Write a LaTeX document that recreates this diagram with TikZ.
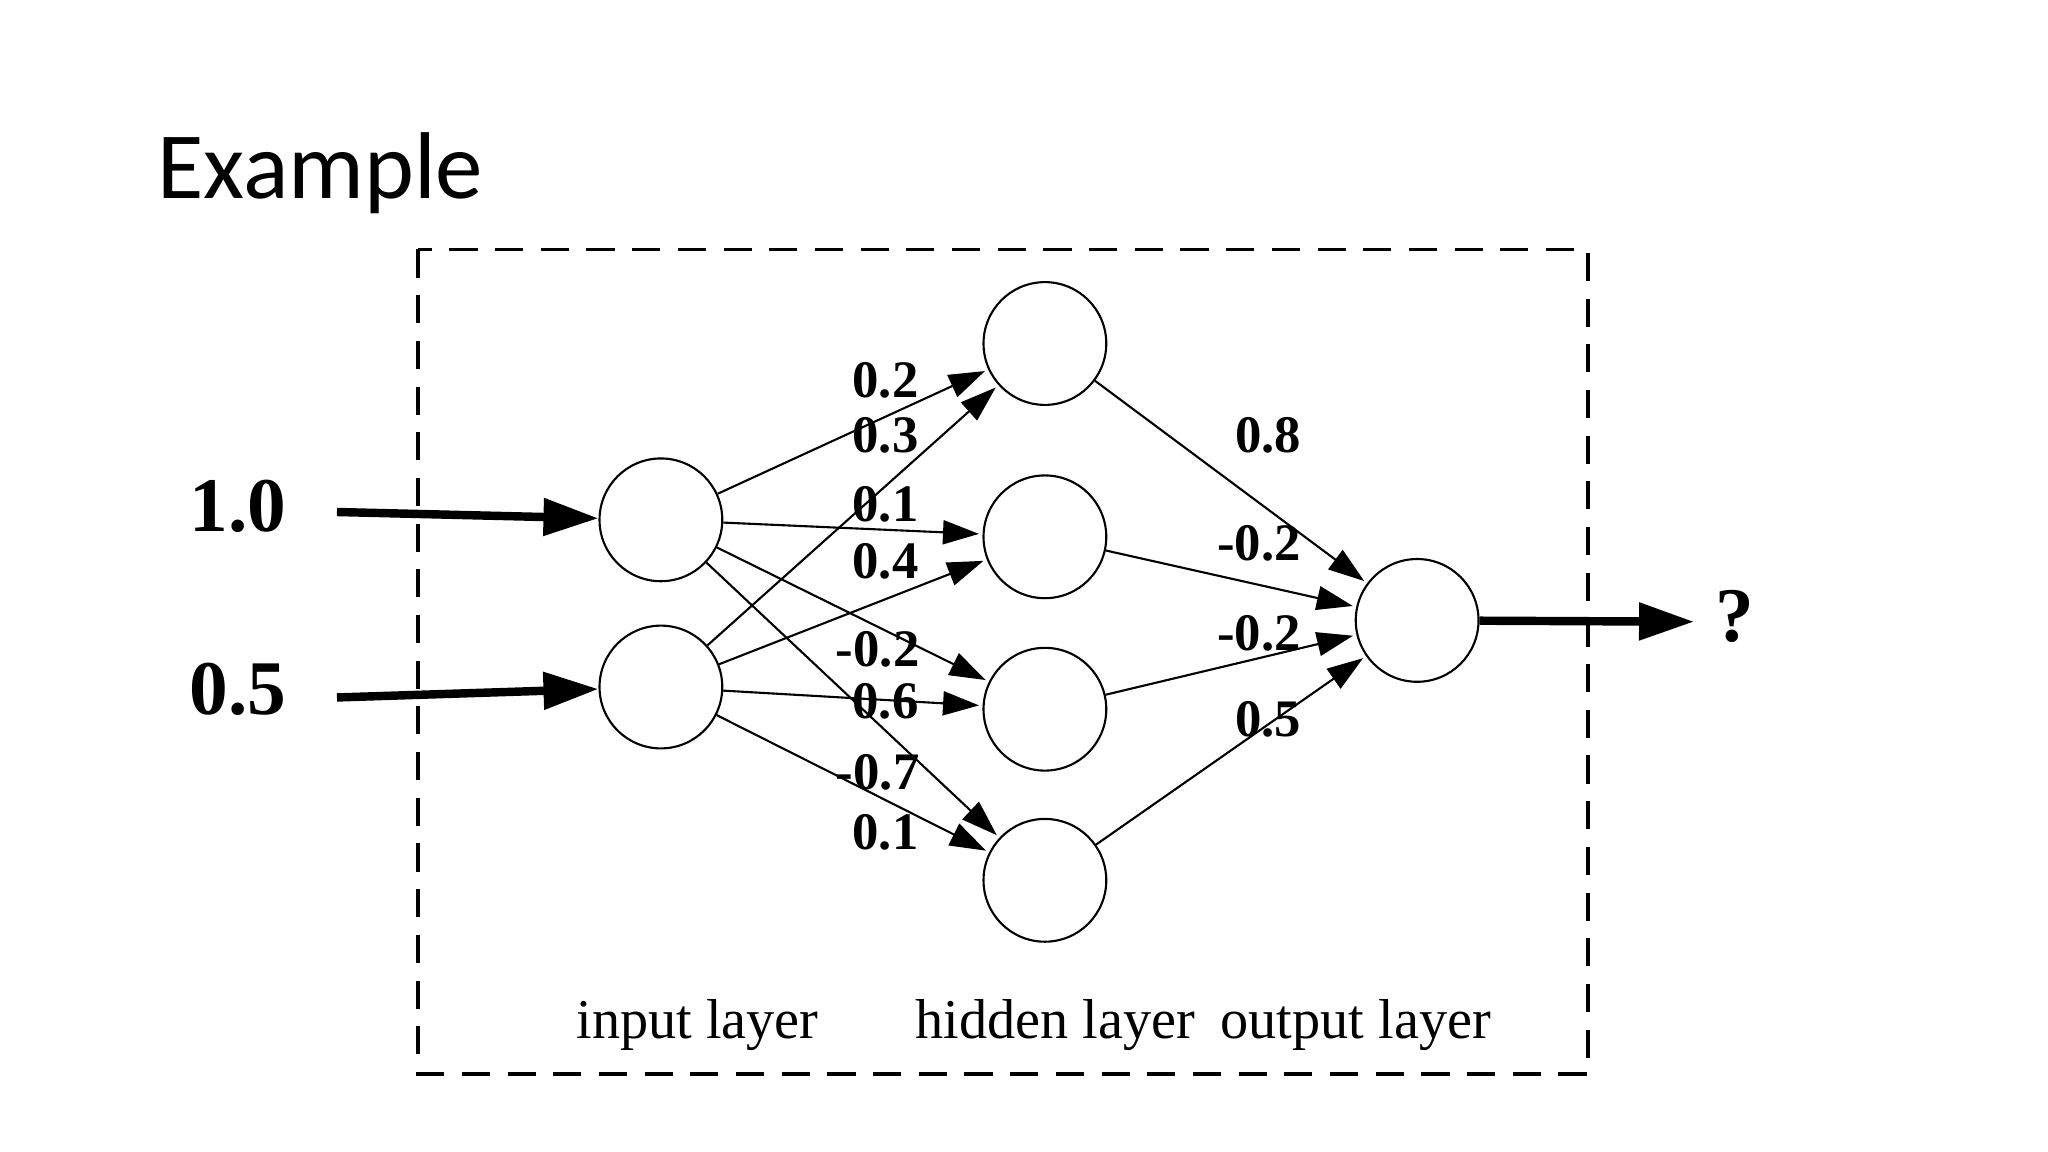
\documentclass[tikz,border=0pt]{standalone}
\usepackage{fontspec}
\setmainfont{Liberation Serif}
\newfontfamily\titlefont{Carlito}
\usetikzlibrary{arrows.meta}
\begin{document}
\begin{tikzpicture}[x=0.01306cm,y=-0.01306cm,
  neuron/.style={circle,draw,line width=0.6pt,minimum size=94*0.01306cm,inner sep=0pt},
  w/.style={-{Triangle[length=9mm*0.4,width=6mm*0.4]},line width=0.6pt,shorten >=1pt},
  big/.style={-{Triangle[length=5.5mm,width=3.6mm]},line width=2.4pt},
  wl/.style={font=\bfseries\fontsize{15}{15}\selectfont,inner sep=0pt},
  io/.style={font=\bfseries\fontsize{22}{22}\selectfont,inner sep=0pt},
  lay/.style={font=\fontsize{16}{16}\selectfont,inner sep=0pt}]
\useasboundingbox (0,0) rectangle (1568,882);
\node[anchor=base west,inner sep=0pt,font=\titlefont\fontsize{27}{27}\selectfont] (title) at (120,152) {Example};
\draw[dashed,line width=1.1pt,dash pattern=on 8pt off 5pt] (320,191) rectangle (1216,822);
\node[neuron] (i1) at (506,398) {};
\node[neuron] (i2) at (506,526) {};
\node[neuron] (h1) at (800,263) {};
\node[neuron] (h2) at (800,411) {};
\node[neuron] (h3) at (800,543) {};
\node[neuron] (h4) at (800,674) {};
\node[neuron] (o) at (1085,475) {};
\node[io] (x1) at (182,388) {1.0};
\node[io] (x2) at (182,528) {0.5};
\node[io] (y) at (1328,472) {?};
\coordinate (s1) at (258,392);
\coordinate (s2) at (258,534);
\coordinate (e1) at (1297,476);
\draw[big] (s1) -- (i1);
\draw[big] (s2) -- (i2);
\draw[big] (o) -- (e1);
\foreach \a in {i1,i2} \foreach \b in {h1,h2,h3,h4} \draw[w] (\a) -- (\b);
\foreach \b in {h1,h2,h3,h4} \draw[w] (\b) -- (o);
\node[wl] at (678,291) {0.2};
\node[wl] at (678,333) {0.3};
\node[wl] at (678,386) {0.1};
\node[wl] at (678,430) {0.4};
\node[wl] at (672,497) {-0.2};
\node[wl] at (678,537) {0.6};
\node[wl] at (672,591) {-0.7};
\node[wl] at (678,637) {0.1};
\node[wl] at (971,333) {0.8};
\node[wl] at (964,416) {-0.2};
\node[wl] at (964,485) {-0.2};
\node[wl] at (971,551) {0.5};
\node[lay] at (534,785) {input layer};
\node[lay] at (808,785) {hidden layer};
\node[lay] at (1038,785) {output layer};
\end{tikzpicture}
\end{document}
